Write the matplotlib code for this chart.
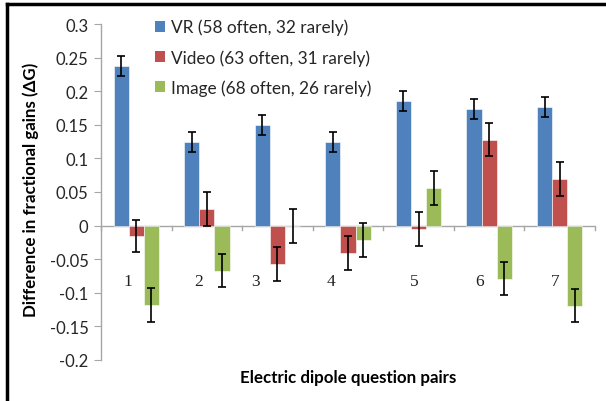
import matplotlib
matplotlib.use("Agg")
import matplotlib.pyplot as plt
import numpy as np
from matplotlib.lines import Line2D
from matplotlib.patches import Patch

categories = ["1", "2", "3", "4", "5", "6", "7"]
series_names = ["VR (58 often, 32 rarely)", "Video (63 often, 31 rarely)", "Image (68 often, 26 rarely)"]
vr = [0.238, 0.125, 0.150, 0.125, 0.186, 0.174, 0.176]
video = [-0.015, 0.025, -0.057, -0.041, -0.005, 0.128, 0.069]
image = [-0.118, -0.067, -0.001, -0.021, 0.056, -0.079, -0.119]
vr_err = [0.015, 0.015, 0.015, 0.015, 0.015, 0.015, 0.015]
video_err = [0.024, 0.025, 0.025, 0.025, 0.025, 0.025, 0.025]
image_err = [0.025, 0.025, 0.025, 0.025, 0.025, 0.025, 0.025]
yticks = [0.3, 0.25, 0.2, 0.15, 0.1, 0.05, 0, -0.05, -0.1, -0.15, -0.2]
ytick_labels = ["0.3", "0.25", "0.2", "0.15", "0.1", "0.05", "0", "-0.05", "-0.1", "-0.15", "-0.2"]

colors = ["#4F81BD", "#C0504D", "#9BBB59"]
label_offsets = [-0.117, -0.111, -0.304, -0.241, -0.065, -0.129, -0.067]

fig = plt.figure(figsize=(6.06, 4.02), dpi=100)
ax = fig.add_axes([101/606, 1-361/402, (595-101)/606, (361-25)/402])

x = np.arange(1, len(categories) + 1)
w = 0.215
allv = [vr, video, image]
alle = [vr_err, video_err, image_err]
for i, (vals, errs) in enumerate(zip(allv, alle)):
    pos = x + (i - 1) * w
    ax.bar(pos, vals, width=w, color=colors[i], edgecolor="white", linewidth=0.4, zorder=2)
    ax.errorbar(pos, vals, yerr=errs, fmt="none", ecolor="black", elinewidth=1.2,
                capsize=3, capthick=1.2, zorder=3)

ax.set_xlim(0.5, len(categories) + 0.5)
ax.set_ylim(-0.2, 0.3)
ax.set_yticks(yticks)
ax.set_yticklabels(ytick_labels, fontfamily="Lato", fontsize=12, color="#262626")
ax.set_xticks([])
for s in ["top", "right", "bottom"]:
    ax.spines[s].set_visible(False)
ax.spines["left"].set_color("#A6A6A6")
ax.spines["left"].set_linewidth(1)
ax.tick_params(axis="y", length=5, color="#A6A6A6", pad=4)
ax.axhline(0, color="#A6A6A6", lw=1, zorder=1)
for b in np.arange(0.5, len(categories) + 1.0, 1.0):
    ax.plot([b, b], [0, -0.007], color="#A6A6A6", lw=1, clip_on=False, zorder=1)

for xi, lab, off in zip(x, categories, label_offsets):
    ax.text(xi + off, -0.083, lab, fontfamily="Liberation Serif", fontsize=12.5,
            ha="center", va="center", color="#222222")

ax.text(0.5, -0.05, "Electric dipole question pairs", transform=ax.transAxes,
        fontfamily="Lato", fontweight="bold", fontsize=12.2, ha="center", va="center")
ax.text(-0.143, 0.509, "Difference in fractional gains (ΔG)", transform=ax.transAxes,
        fontfamily="Lato", fontweight="bold", fontsize=12.2, ha="center", va="center",
        rotation=90)

handles = [Patch(facecolor=c, edgecolor="none") for c in colors]
leg = ax.legend(handles, series_names, loc="upper left", bbox_to_anchor=(0.078, 1.062),
                frameon=False, prop={"family": "Lato", "size": 12.4},
                handlelength=0.6, handleheight=0.6, handletextpad=0.3, labelspacing=0.8)
for t in leg.get_texts():
    t.set_color("#262626")

# figure frame (left and top)
fig.add_artist(Line2D([7/606, 7/606], [0, 1-5/402], color="black", lw=2.5, transform=fig.transFigure))
fig.add_artist(Line2D([7/606, 1], [1-5/402, 1-5/402], color="black", lw=2.5, transform=fig.transFigure))

fig.savefig("out.png", dpi=100)
